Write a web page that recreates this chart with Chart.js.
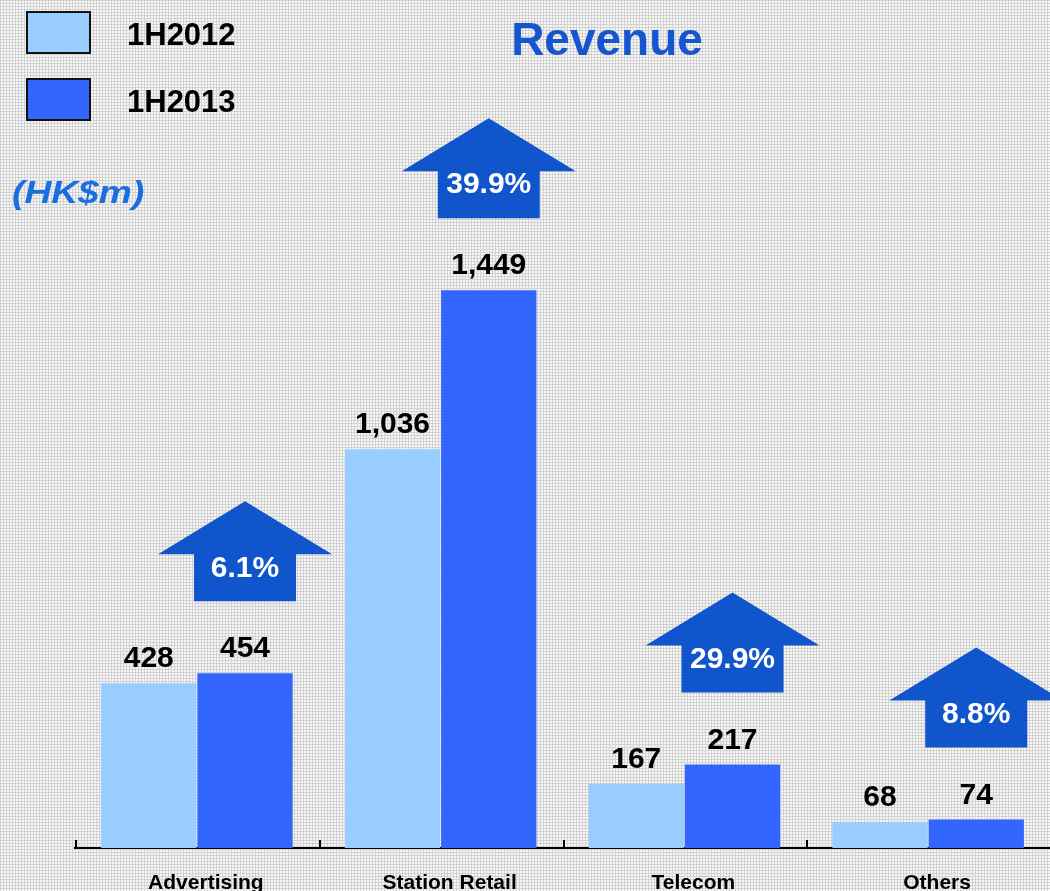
<!DOCTYPE html>
<html>
<head>
<meta charset="utf-8">
<title>Revenue</title>
<script src="https://cdn.jsdelivr.net/npm/chart.js@4"></script>
<style>
  html, body { margin: 0; padding: 0; background: #e3e3e3; }
  #revenueChart { display: block; }
</style>
</head>
<body>
<canvas id="revenueChart" width="1050" height="891"></canvas>
<script>
const categories = ['Advertising', 'Station Retail', 'Telecom', 'Others'];
const seriesNames = ['1H2012', '1H2013'];
const revenue2012 = [428, 1036, 167, 68];
const revenue2013 = [454, 1449, 217, 74];
const growthLabels = ['6.1%', '39.9%', '29.9%', '8.8%'];

const lightBlue = '#99ccff';
const darkBlue = '#3366ff';
const arrowBlue = '#1155cc';
const fontFamily = 'Arial, "Liberation Sans", sans-serif';

// light grey dotted grid like the slide background
function makePattern(ctx) {
    const tile = document.createElement('canvas');
    tile.width = 3; tile.height = 3;
    const t = tile.getContext('2d');
    t.fillStyle = '#f7f7f7';
    t.fillRect(0, 0, 3, 3);
    t.fillStyle = '#d2d2d2';
    t.fillRect(0, 0, 3, 1);
    t.fillRect(0, 0, 1, 3);
    return ctx.createPattern(tile, 'repeat');
}

const backgroundPlugin = {
    id: 'slideBackground',
    beforeDraw(chart) {
        const ctx = chart.ctx;
        ctx.save();
        ctx.fillStyle = makePattern(ctx);
        ctx.fillRect(0, 0, chart.width, chart.height);
        ctx.restore();
    }
};

function drawArrow(ctx, cx, bottom, label) {
    const height = 100, head = 53, halfHead = 87, halfStem = 51;
    const top = bottom - height, shoulder = top + head;
    ctx.save();
    ctx.beginPath();
    ctx.moveTo(cx, top);
    ctx.lineTo(cx + halfHead, shoulder);
    ctx.lineTo(cx + halfStem, shoulder);
    ctx.lineTo(cx + halfStem, bottom);
    ctx.lineTo(cx - halfStem, bottom);
    ctx.lineTo(cx - halfStem, shoulder);
    ctx.lineTo(cx - halfHead, shoulder);
    ctx.closePath();
    ctx.fillStyle = arrowBlue;
    ctx.fill();
    ctx.fillStyle = '#ffffff';
    ctx.font = 'bold 30px ' + fontFamily;
    ctx.textAlign = 'center';
    ctx.textBaseline = 'middle';
    ctx.fillText(label, cx, bottom - 33);
    ctx.restore();
}

const annotatePlugin = {
    id: 'annotate',
    afterDatasetsDraw(chart) {
        const ctx = chart.ctx;
        const area = chart.chartArea;
        const x = chart.scales.x;
        ctx.save();

        // small upward ticks between categories
        const step = (area.right - area.left) / categories.length;
        ctx.strokeStyle = '#000000';
        ctx.lineWidth = 2;
        for (let i = 0; i < categories.length; i++) {
            const tx = Math.round(x.left + i * step) + 1;
            ctx.beginPath();
            ctx.moveTo(tx, area.bottom - 8);
            ctx.lineTo(tx, area.bottom);
            ctx.stroke();
        }

        // value labels
        ctx.fillStyle = '#000000';
        ctx.font = 'bold 30px ' + fontFamily;
        ctx.textAlign = 'center';
        ctx.textBaseline = 'alphabetic';
        chart.data.datasets.forEach((ds, di) => {
            chart.getDatasetMeta(di).data.forEach((bar, i) => {
                ctx.fillText(ds.data[i].toLocaleString('en-US'), bar.x, bar.y - 16);
            });
        });

        // growth arrows above the 1H2013 bars
        chart.getDatasetMeta(1).data.forEach((bar, i) => {
            drawArrow(ctx, bar.x, bar.y - 72, growthLabels[i]);
        });

        ctx.textBaseline = 'alphabetic';

        // title
        ctx.fillStyle = '#1655d0';
        ctx.font = 'bold 46px ' + fontFamily;
        ctx.textAlign = 'center';
        ctx.fillText('Revenue', 607, 55);

        // unit, slightly stretched like the slide
        ctx.save();
        ctx.translate(12, 203);
        ctx.scale(1.2, 1);
        ctx.fillStyle = '#1a6ee0';
        ctx.font = 'italic bold 31px ' + fontFamily;
        ctx.textAlign = 'left';
        ctx.fillText('(HK$m)', 0, 0);
        ctx.restore();

        // legend
        const colors = [lightBlue, darkBlue];
        const rows = [12, 79];
        ctx.textAlign = 'left';
        seriesNames.forEach((name, i) => {
            ctx.fillStyle = colors[i];
            ctx.fillRect(27, rows[i], 63, 41);
            ctx.strokeStyle = '#111111';
            ctx.lineWidth = 2;
            ctx.strokeRect(27, rows[i], 63, 41);
            ctx.fillStyle = '#000000';
            ctx.font = 'bold 31px ' + fontFamily;
            ctx.fillText(name, 127, rows[i] + 33);
        });

        ctx.restore();
    }
};

new Chart(document.getElementById('revenueChart'), {
    type: 'bar',
    data: {
        labels: categories,
        datasets: [
            { label: seriesNames[0], data: revenue2012, backgroundColor: lightBlue },
            { label: seriesNames[1], data: revenue2013, backgroundColor: darkBlue }
        ]
    },
    options: {
        responsive: false,
        animation: false,
        devicePixelRatio: 1,
        layout: { padding: { left: 75, right: 0, top: 155, bottom: -28 } },
        datasets: { bar: { categoryPercentage: 0.79, barPercentage: 0.99 } },
        plugins: {
            legend: { display: false },
            tooltip: { enabled: false },
            title: { display: false }
        },
        scales: {
            x: {
                grid: { display: false, drawTicks: false },
                border: { display: true, color: '#000000', width: 2 },
                ticks: {
                    color: '#000000',
                    padding: 26,
                    labelOffset: 9,
                    font: { family: fontFamily, size: 21, weight: 'bold', lineHeight: 0.9 }
                }
            },
            y: {
                display: false,
                min: 0,
                max: 1800
            }
        }
    },
    plugins: [backgroundPlugin, annotatePlugin]
});
</script>
</body>
</html>
